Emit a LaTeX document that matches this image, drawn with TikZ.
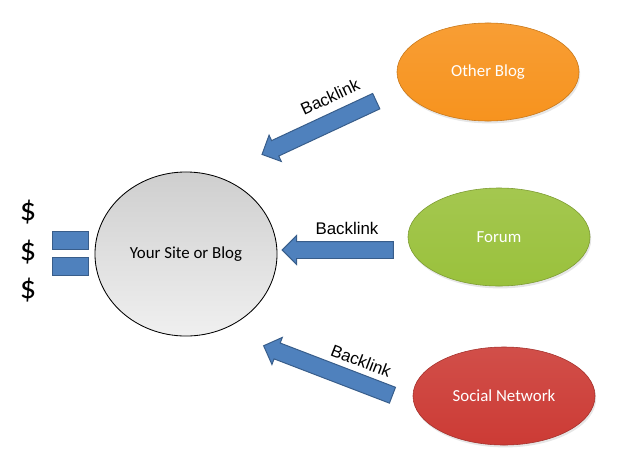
\documentclass[tikz,border=0pt]{standalone}
\usepackage{fontspec}
\setmainfont{Carlito}
\newfontfamily\arialfont{Liberation Sans}
\usetikzlibrary{shapes.geometric,shapes.arrows,shadows}
\definecolor{linkblue}{HTML}{4F81BD}
\definecolor{linkedge}{HTML}{385D8A}
\definecolor{blogorange}{HTML}{F7931E}
\definecolor{forumgreen}{HTML}{9AC13C}
\definecolor{socialred}{HTML}{CC3B35}
\tikzset{
  source/.style={ellipse, minimum width=4.55cm, minimum height=2.45cm,
    text=white, font=\fontsize{12}{14}\selectfont,
    drop shadow={opacity=0.2, shadow xshift=0.03cm, shadow yshift=-0.06cm}},
  backlink/.style={single arrow, fill=linkblue, draw=linkedge, line width=0.7pt,
    inner sep=0pt, text height=0.4cm, text depth=0pt,
    single arrow head extend=0.15cm, single arrow tip angle=90},
  linklabel/.style={font=\arialfont\fontsize{12}{14}\selectfont, inner sep=1pt},
  equalbar/.style={rectangle, fill=linkblue, draw=linkedge, line width=0.7pt,
    minimum width=0.9cm, minimum height=0.45cm, inner sep=0pt}
}
\begin{document}
\begin{tikzpicture}[x=0.025cm, y=-0.025cm]
  \useasboundingbox (0,0) rectangle (636,461);

  % the site in the middle
  \node[ellipse, draw=black, line width=0.6pt, minimum width=4.55cm, minimum height=4.1cm,
    top color=gray!38, bottom color=gray!12, font=\fontsize{12}{14}\selectfont]
    (site) at (186,254) {Your Site or Blog};

  % sources
  \node[source, draw=blogorange!80!black, top color=blogorange!90!white, bottom color=blogorange]
    (blog) at (488,72) {Other Blog};
  \node[source, draw=forumgreen!80!black, top color=forumgreen!90!white, bottom color=forumgreen]
    (forum) at (499,237) {Forum};
  \node[source, draw=socialred!80!black, top color=socialred!90!white, bottom color=socialred]
    (social) at (504,396) {Social Network};

  % backlinks
  \node[backlink, minimum height=3.15cm, rotate=205] (linkA) at (323,126) {};
  \node[backlink, minimum height=2.78cm, rotate=180] (linkB) at (342,250) {};
  \node[backlink, minimum height=3.45cm, rotate=159] (linkC) at (332,372) {};
  \node[linklabel, rotate=25] (textA) at (330,97) {Backlink};
  \node[linklabel] (textB) at (347,228) {Backlink};
  \node[linklabel, rotate=-21] (textC) at (361,361) {Backlink};

  % money
  \node[equalbar] (barA) at (70,240) {};
  \node[equalbar] (barB) at (70,266.5) {};
  \foreach \y/\n in {212/cashA,252/cashB,290/cashC} {
    \node[font=\fontsize{23}{26}\selectfont] (\n) at (28,\y) {\$};
  }
\end{tikzpicture}
\end{document}
